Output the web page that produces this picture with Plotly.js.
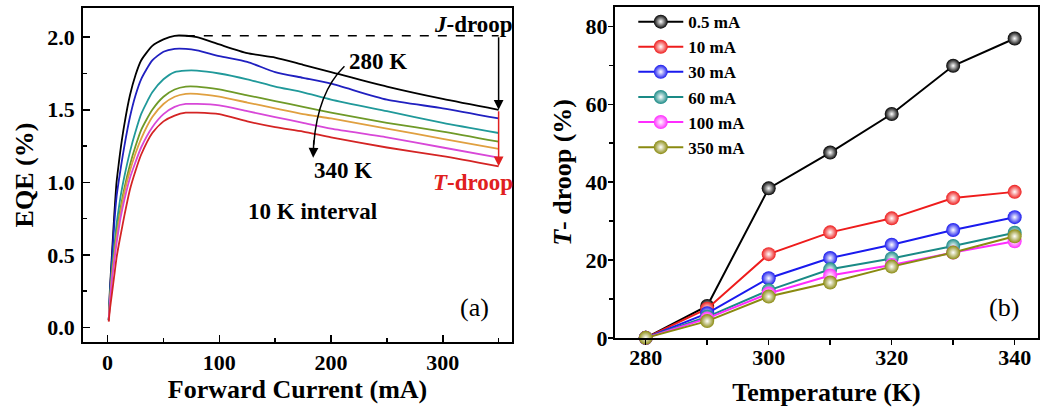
<!DOCTYPE html>
<html>
<head>
<meta charset="utf-8">
<script src="https://cdn.plot.ly/plotly-3.0.1.min.js"></script>
<style>
html,body{margin:0;padding:0;background:#fff;}
#chart{width:1059px;height:410px;}
</style>
</head>
<body>
<div id="chart"></div>
<script>
// ---- Panel (a): EQE vs forward current ----
const current = [1, 2, 4, 6, 8, 10, 12, 15, 20, 25, 30, 40, 50, 60, 70, 80, 100, 125, 150, 175, 200, 250, 300, 350];
const tempLabels = ["280 K", "290 K", "300 K", "310 K", "320 K", "330 K", "340 K"];
const eqe280 = [0.05, 0.25, 0.52, 0.78, 1.00, 1.13, 1.25, 1.40, 1.60, 1.74, 1.84, 1.94, 1.985, 2.01, 2.01, 2.00, 1.95, 1.89, 1.86, 1.81, 1.76, 1.66, 1.575, 1.50];
const eqe290 = [0.05, 0.23, 0.48, 0.72, 0.90, 1.01, 1.11, 1.25, 1.45, 1.60, 1.71, 1.84, 1.90, 1.92, 1.92, 1.91, 1.87, 1.83, 1.76, 1.72, 1.68, 1.57, 1.51, 1.44];
const eqe300 = [0.05, 0.20, 0.42, 0.56, 0.71, 0.82, 0.92, 1.04, 1.21, 1.35, 1.47, 1.62, 1.71, 1.76, 1.77, 1.77, 1.75, 1.71, 1.66, 1.62, 1.57, 1.49, 1.41, 1.34];
const eqe310 = [0.05, 0.18, 0.38, 0.51, 0.65, 0.75, 0.84, 0.96, 1.12, 1.25, 1.36, 1.50, 1.59, 1.64, 1.66, 1.66, 1.64, 1.60, 1.56, 1.52, 1.48, 1.41, 1.35, 1.28];
const eqe320 = [0.05, 0.17, 0.36, 0.49, 0.62, 0.72, 0.81, 0.93, 1.08, 1.20, 1.30, 1.45, 1.54, 1.59, 1.61, 1.61, 1.59, 1.55, 1.51, 1.47, 1.44, 1.37, 1.30, 1.23];
const eqe330 = [0.05, 0.16, 0.34, 0.46, 0.58, 0.68, 0.77, 0.88, 1.03, 1.14, 1.24, 1.38, 1.47, 1.52, 1.54, 1.54, 1.53, 1.49, 1.45, 1.41, 1.37, 1.31, 1.24, 1.17];
const eqe340 = [0.04, 0.12, 0.24, 0.36, 0.48, 0.57, 0.65, 0.77, 0.95, 1.08, 1.19, 1.34, 1.42, 1.46, 1.48, 1.48, 1.47, 1.42, 1.38, 1.35, 1.31, 1.24, 1.18, 1.11];
const eqeSeries = [eqe280, eqe290, eqe300, eqe310, eqe320, eqe330, eqe340];
const eqeColors = ["#000000", "#2020c0", "#20999a", "#6f9a28", "#e0a040", "#d848d8", "#d42424"];

// ---- Panel (b): T-droop vs temperature ----
const temperature = [280, 290, 300, 310, 320, 330, 340];
const droopLabels = ["0.5 mA", "10 mA", "30 mA", "60 mA", "100 mA", "350 mA"];
const droop05 = [0, 8.2, 38.4, 47.6, 57.5, 69.9, 76.9];
const droop10 = [0, 7.5, 21.5, 27.1, 30.7, 35.9, 37.5];
const droop30 = [0, 6.3, 15.3, 20.5, 23.9, 27.7, 31.0];
const droop60 = [0, 5.4, 12.2, 17.6, 20.4, 23.6, 27.0];
const droop100 = [0, 5.0, 11.4, 16.0, 18.7, 21.9, 24.8];
const droop350 = [0, 4.3, 10.6, 14.2, 18.3, 21.9, 26.1];
const droopSeries = [droop05, droop10, droop30, droop60, droop100, droop350];
const droopColors = ["#000000", "#ee1c1c", "#1a1aee", "#1a8a86", "#ff2cff", "#8a8a10"];

const FONT = "Liberation Serif, Times New Roman, serif";

const traces = [];
eqeSeries.forEach((ys, i) => {
  traces.push({
    x: current, y: ys, type: "scatter", mode: "lines", name: tempLabels[i],
    line: {color: eqeColors[i], width: 1.8, shape: "spline", smoothing: 0.6},
    xaxis: "x", yaxis: "y", showlegend: false, hoverinfo: "x+y"
  });
});
droopSeries.forEach((ys, i) => {
  traces.push({
    x: temperature, y: ys, type: "scatter", mode: "lines+markers", name: droopLabels[i],
    line: {color: droopColors[i], width: 2},
    marker: {color: droopColors[i], size: 14, gradient: {type: "radial", color: "#ffffff"},
             line: {width: 0}},
    xaxis: "x2", yaxis: "y2", cliponaxis: false, showlegend: true
  });
});

const tickFont = {family: FONT, size: 22, color: "#000", weight: "bold"};
const titleFont = {family: FONT, size: 26, color: "#000", weight: "bold"};
const annFont = {family: FONT, size: 23, color: "#000", weight: "bold"};

const layout = {
  width: 1059, height: 410,
  margin: {l: 0, r: 0, t: 0, b: 0},
  paper_bgcolor: "#fff", plot_bgcolor: "#fff",
  font: {family: FONT, color: "#000"},
  showlegend: true,
  legend: {
    x: 0.598, y: 0.99, xanchor: "left", yanchor: "top",
    bgcolor: "rgba(0,0,0,0)", borderwidth: 0,
    font: {family: FONT, size: 17, color: "#000", weight: "bold"},
    itemwidth: 45, tracegroupgap: 0
  },
  xaxis: {
    domain: [0.0784, 0.4835], range: [-22, 362],
    showline: true, linewidth: 2, linecolor: "#000", mirror: true,
    showgrid: false, zeroline: false,
    tickvals: [0, 100, 200, 300], ticks: "inside", ticklen: 7, tickwidth: 1.5, tickcolor: "#000",
    minor: {tickvals: [50, 150, 250, 350], ticks: "inside", ticklen: 4, tickwidth: 1.5, tickcolor: "#000"},
    tickfont: tickFont, ticklabelstandoff: 0,
    title: {text: "Forward Current (mA)", font: titleFont, standoff: 4}
  },
  yaxis: {
    domain: [0.166, 0.980], range: [-0.1, 2.2],
    showline: true, linewidth: 2, linecolor: "#000", mirror: true,
    showgrid: false, zeroline: false,
    tickvals: [0, 0.5, 1.0, 1.5, 2.0], ticktext: ["0.0", "0.5", "1.0", "1.5", "2.0"],
    ticks: "inside", ticklen: 7, tickwidth: 1.5, tickcolor: "#000",
    minor: {tickvals: [0.25, 0.75, 1.25, 1.75], ticks: "inside", ticklen: 4, tickwidth: 1.5, tickcolor: "#000"},
    tickfont: tickFont, ticklabelstandoff: 2,
    title: {text: "EQE (%)", font: titleFont, standoff: 6}
  },
  xaxis2: {
    domain: [0.5807, 0.9802], range: [275, 343.8], anchor: "y2",
    showline: true, linewidth: 2, linecolor: "#000", mirror: true,
    showgrid: false, zeroline: false,
    tickvals: [280, 300, 320, 340], ticks: "outside", ticklen: 5, tickwidth: 1.5, tickcolor: "#000",
    minor: {tickvals: [290, 310, 330], ticks: "outside", ticklen: 5, tickwidth: 1.5, tickcolor: "#000"},
    tickfont: tickFont, ticklabelstandoff: -6,
    title: {text: "Temperature (K)", font: titleFont, standoff: 14}
  },
  yaxis2: {
    domain: [0.176, 0.983], range: [0, 85], anchor: "x2",
    showline: true, linewidth: 2, linecolor: "#000", mirror: true,
    showgrid: false, zeroline: false,
    tickvals: [0, 20, 40, 60, 80], ticks: "outside", ticklen: 5, tickwidth: 1.5, tickcolor: "#000",
    minor: {tickvals: [10, 30, 50, 70], ticks: "outside", ticklen: 4, tickwidth: 1.5, tickcolor: "#000"},
    tickfont: tickFont, ticklabelstandoff: -4,
    title: {text: "<i>T</i>- droop (%)", font: titleFont, standoff: 6}
  },
  shapes: [
    {type: "line", xref: "x", yref: "y", x0: 70, x1: 350, y0: 2.01, y1: 2.01,
     line: {color: "#000", width: 1.5, dash: "dash"}},
    {type: "path", xref: "x", yref: "y", path: "M 212,1.80 Q 188,1.62 184.5,1.26",
     line: {color: "#000", width: 1.5}}
  ],
  annotations: [
    {xref: "x", yref: "y", x: 350, y: 1.50, ax: 350, ay: 2.01, axref: "x", ayref: "y",
     showarrow: true, arrowhead: 2, arrowsize: 1.3, arrowwidth: 1.5, arrowcolor: "#000", text: ""},
    {xref: "x", yref: "y", x: 350, y: 1.11, ax: 350, ay: 1.50, axref: "x", ayref: "y",
     showarrow: true, arrowhead: 2, arrowsize: 1.3, arrowwidth: 1.5, arrowcolor: "#e02020", text: ""},
    {xref: "x", yref: "y", x: 184, y: 1.17, ax: 184.6, ay: 1.30, axref: "x", ayref: "y",
     showarrow: true, arrowhead: 2, arrowsize: 1.3, arrowwidth: 1.5, arrowcolor: "#000", text: ""},
    {xref: "paper", yref: "y", x: 0.4865, y: 2.09, xanchor: "right", yanchor: "middle", showarrow: false,
     text: "<i>J</i>-droop", font: annFont},
    {xref: "paper", yref: "y", x: 0.4865, y: 1.00, xanchor: "right", yanchor: "middle", showarrow: false,
     text: "<i>T</i>-droop", font: {family: FONT, size: 23, color: "#e02020", weight: "bold"}},
    {xref: "x", yref: "y", x: 214, y: 1.83, xanchor: "left", yanchor: "middle", showarrow: false,
     text: "280 K", font: annFont},
    {xref: "x", yref: "y", x: 183, y: 1.08, xanchor: "left", yanchor: "middle", showarrow: false,
     text: "340 K", font: annFont},
    {xref: "x", yref: "y", x: 124, y: 0.80, xanchor: "left", yanchor: "middle", showarrow: false,
     text: "10 K interval", font: annFont},
    {xref: "x", yref: "y", x: 343, y: 0.14, xanchor: "right", yanchor: "middle", showarrow: false,
     text: "(a)", font: {family: FONT, size: 26, color: "#000"}},
    {xref: "x2", yref: "y2", x: 341, y: 7.7, xanchor: "right", yanchor: "middle", showarrow: false,
     text: "(b)", font: {family: FONT, size: 26, color: "#000"}}
  ]
};

Plotly.newPlot("chart", traces, layout, {displayModeBar: false, staticPlot: true});
</script>
</body>
</html>
